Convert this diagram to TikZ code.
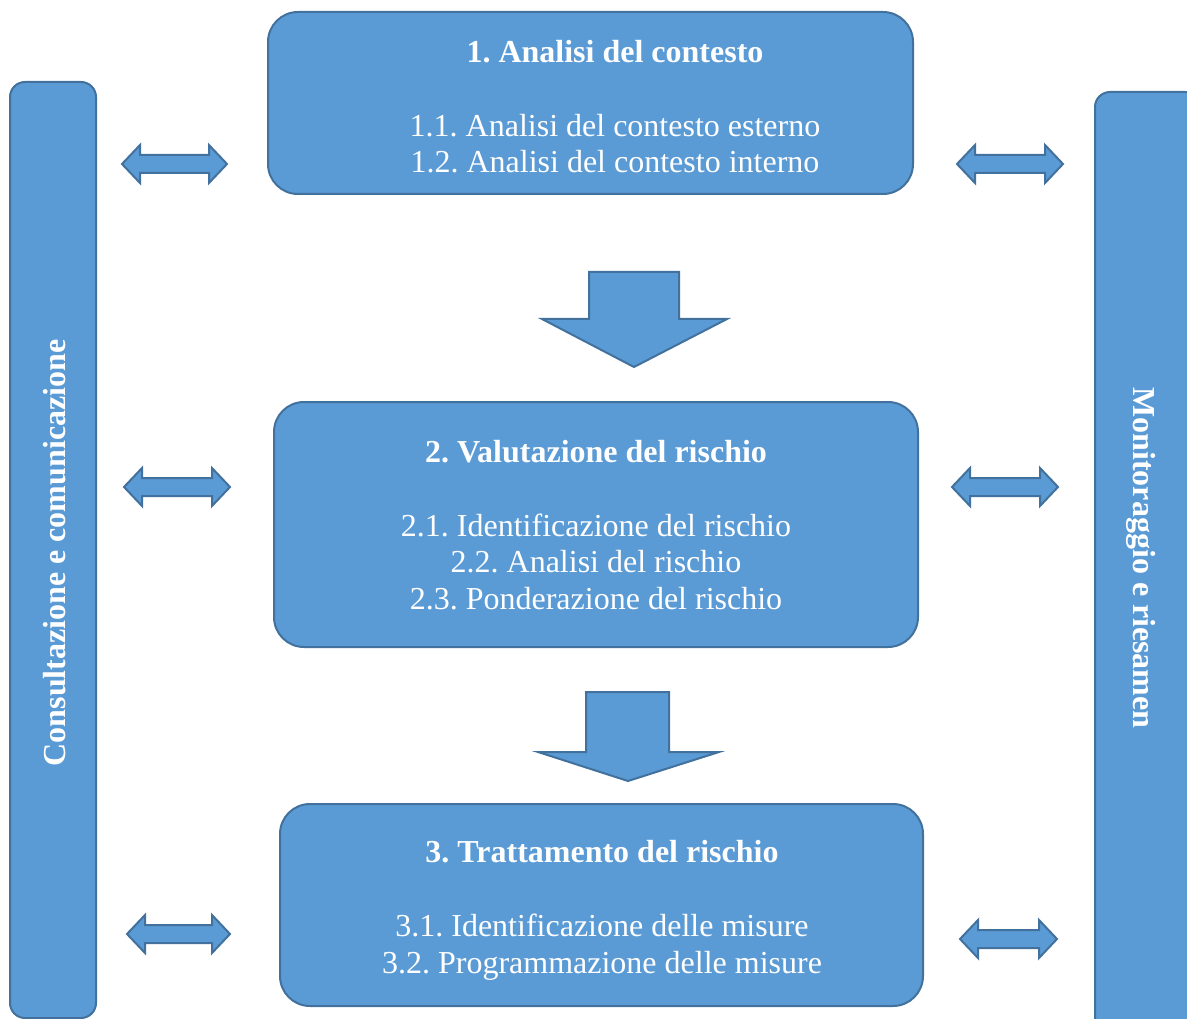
\documentclass[tikz,border=0pt]{standalone}
\usepackage{fontspec}
\setmainfont{Liberation Serif}
\frenchspacing
\definecolor{fillblue}{HTML}{5B9BD5}
\definecolor{edgeblue}{HTML}{41719C}
\tikzset{
  blueshape/.style={fill=fillblue, draw=edgeblue, line width=2pt, line join=miter},
  stagebox/.style={blueshape, rounded corners=30pt, inner sep=0pt},
  sidebar/.style={blueshape, rounded corners=15pt},
  boxtext/.style={text=white, font=\fontsize{32}{36.8}\selectfont\frenchspacing, align=center, inner sep=0pt},
  sidetext/.style={text=white, font=\fontsize{32}{36.8}\selectfont\bfseries, inner sep=0pt},
}
% double block arrow: x1, x2, y
\newcommand\dblarr[3]{%
  \draw[blueshape] (#1,#3) -- ({#1+18},{#3-19}) -- ({#1+18},{#3-9}) -- ({#2-18},{#3-9})
    -- ({#2-18},{#3-19}) -- (#2,#3) -- ({#2-18},{#3+19}) -- ({#2-18},{#3+9})
    -- ({#1+18},{#3+9}) -- ({#1+18},{#3+19}) -- cycle;}
% down block arrow: shaft x1, shaft x2, top, shoulder y, head x1, head x2, tip x, tip y
\newcommand\downarr[8]{%
  \draw[blueshape] (#1,#3) -- (#2,#3) -- (#2,#4) -- (#6,#4) -- (#7,#8) -- (#5,#4) -- (#1,#4) -- cycle;}
\begin{document}
\begin{tikzpicture}[x=1pt,y=-1pt]
\useasboundingbox (0,0) rectangle (1187,1019);
\clip (0,0) rectangle (1187,1019);

% side bars
\draw[sidebar] (10,82) rectangle (96,1018);
\draw[sidebar] (1095,92) rectangle (1200,1040);
\node[sidetext, rotate=90] (lefttext) at (55,553) {Consultazione e comunicazione};
\node[sidetext, rotate=-90] (righttext) at (1141,558) {Monitoraggio e riesamen};

% stage boxes
\node[stagebox, minimum width=645pt, minimum height=182pt] (box1) at (590.5,103) {};
\node[stagebox, minimum width=644pt, minimum height=245pt] (box2) at (596,524.5) {};
\node[stagebox, minimum width=643pt, minimum height=202pt] (box3) at (601.5,905) {};

\node[boxtext] (text1) at (615,106.8) {\textbf{1. Analisi del contesto}\\[36.8pt]
  1.1. Analisi del contesto esterno\\ 1.2. Analisi del contesto interno};
\node[boxtext] (text2) at (596,525.2) {\textbf{2. Valutazione del rischio}\\[36.8pt]
  2.1. Identificazione del rischio\\ 2.2. Analisi del rischio\\ 2.3. Ponderazione del rischio};
\node[boxtext] (text3) at (602,910.3) {\textbf{3. Trattamento del rischio}\\[36.8pt]
  3.1. Identificazione delle misure\\ 3.2. Programmazione delle misure};

% down arrows
\downarr{589}{679}{272}{319}{542}{727}{634}{367}
\downarr{586}{669}{692}{752}{538}{719}{628}{781}

% double arrows
\dblarr{122}{227}{164}
\dblarr{957}{1063}{164}
\dblarr{124}{230}{487}
\dblarr{952}{1058}{487}
\dblarr{127}{230}{934}
\dblarr{960}{1057}{939}
\end{tikzpicture}
\end{document}
